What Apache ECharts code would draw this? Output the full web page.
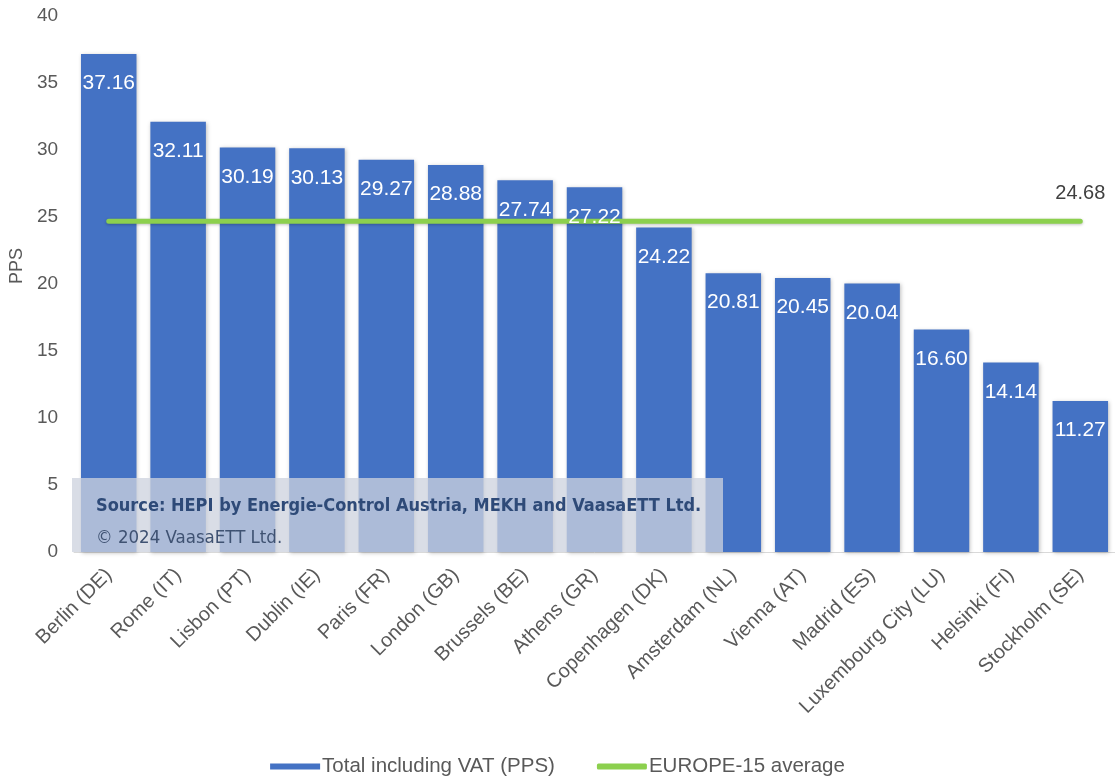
<!DOCTYPE html>
<html>
<head>
<meta charset="utf-8">
<script src="https://cdn.jsdelivr.net/npm/echarts@6/dist/echarts.min.js"></script>
<style>html,body{margin:0;padding:0;background:#fff;}#c{width:1115px;height:783px;}</style>
</head>
<body>
<div id="c"></div>
<script>
const categories = ['Berlin (DE)','Rome (IT)','Lisbon (PT)','Dublin (IE)','Paris (FR)','London (GB)','Brussels (BE)','Athens (GR)','Copenhagen (DK)','Amsterdam (NL)','Vienna (AT)','Madrid (ES)','Luxembourg City (LU)','Helsinki (FI)','Stockholm (SE)'];
const totalVAT = [37.16,32.11,30.19,30.13,29.27,28.88,27.74,27.22,24.22,20.81,20.45,20.04,16.60,14.14,11.27];
const europeAvg = [24.68,24.68,24.68,24.68,24.68,24.68,24.68,24.68,24.68,24.68,24.68,24.68,24.68,24.68,24.68];
const yTicks = [0,5,10,15,20,25,30,35,40];
const sourceLines = ['Source: HEPI by Energie-Control Austria, MEKH and VaasaETT Ltd.','© 2024 VaasaETT Ltd.'];

const chart = echarts.init(document.getElementById('c'));
const grid = {left:72, top:16, width:1047, height:536};
chart.setOption({
  animation:false,
  textStyle:{fontFamily:'Liberation Sans, Arial, sans-serif'},
  grid: grid,
  legend:{
    bottom:1, left:'center', itemGap:42, itemWidth:50, itemHeight:6,
    textStyle:{fontSize:20.5,color:'#595959', padding:[0,0,0,-3]},
    data:[{name:'Total including VAT (PPS)', icon:'rect'},{name:'EUROPE-15 average', icon:'roundRect'}]
  },
  xAxis:{
    type:'category', data:categories,
    axisLine:{lineStyle:{color:'#d9d9d9', width:1}},
    axisTick:{show:false},
    axisLabel:{rotate:45, fontSize:20, color:'#595959', interval:0, margin:20}
  },
  yAxis:{
    type:'value', min:yTicks[0], max:yTicks[yTicks.length-1], interval:5,
    name:'PPS', nameLocation:'middle', nameGap:42, nameTextStyle:{fontSize:18,color:'#595959', padding:[0,0,0,36]},
    axisLine:{show:false}, axisTick:{show:false}, splitLine:{show:false},
    axisLabel:{fontSize:19, color:'#595959', margin:16}
  },
  series:[
    {
      name:'Total including VAT (PPS)', type:'bar', data:totalVAT, barCategoryGap:'20%', z:2,
      itemStyle:{color:'#4472c4', shadowColor:'rgba(0,0,0,0.25)', shadowBlur:4, shadowOffsetX:1, shadowOffsetY:1}
    },
    {
      name:'EUROPE-15 average', type:'line', data:europeAvg, symbol:'circle', symbolSize:1, z:3,
      lineStyle:{color:'#8cd04e', width:5, cap:'round', shadowColor:'rgba(0,0,0,0.25)', shadowBlur:3, shadowOffsetY:1},
      itemStyle:{color:'#8cd04e'},
      label:{show:true, position:'top', distance:17, color:'#404040', fontSize:20,
        formatter:p=> p.dataIndex===europeAvg.length-1 ? p.value.toFixed(2) : ''}
    },
    {
      name:'labels', type:'bar', data:totalVAT, barGap:'-100%', barCategoryGap:'20%', z:4,
      itemStyle:{color:'rgba(0,0,0,0)'}, silent:true,
      label:{show:true, position:'insideTop', distance:19, color:'#ffffff', fontSize:21,
        formatter:p=>p.value.toFixed(2)}
    }
  ],
  graphic:[
    {type:'rect', z:100, shape:{x:72, y:478, width:651, height:74},
      style:{fill:'rgba(205,210,222,0.76)'}},
    {type:'text', z:101, left:96, top:497,
      style:{text:sourceLines[0], font:'bold 18px "DejaVu Sans Condensed", sans-serif', fill:'#2e4a78'}},
    {type:'text', z:101, left:96, top:529,
      style:{text:sourceLines[1], font:'18.5px "DejaVu Sans Condensed", sans-serif', fill:'#3f5272'}}
  ]
});
</script>
</body>
</html>
